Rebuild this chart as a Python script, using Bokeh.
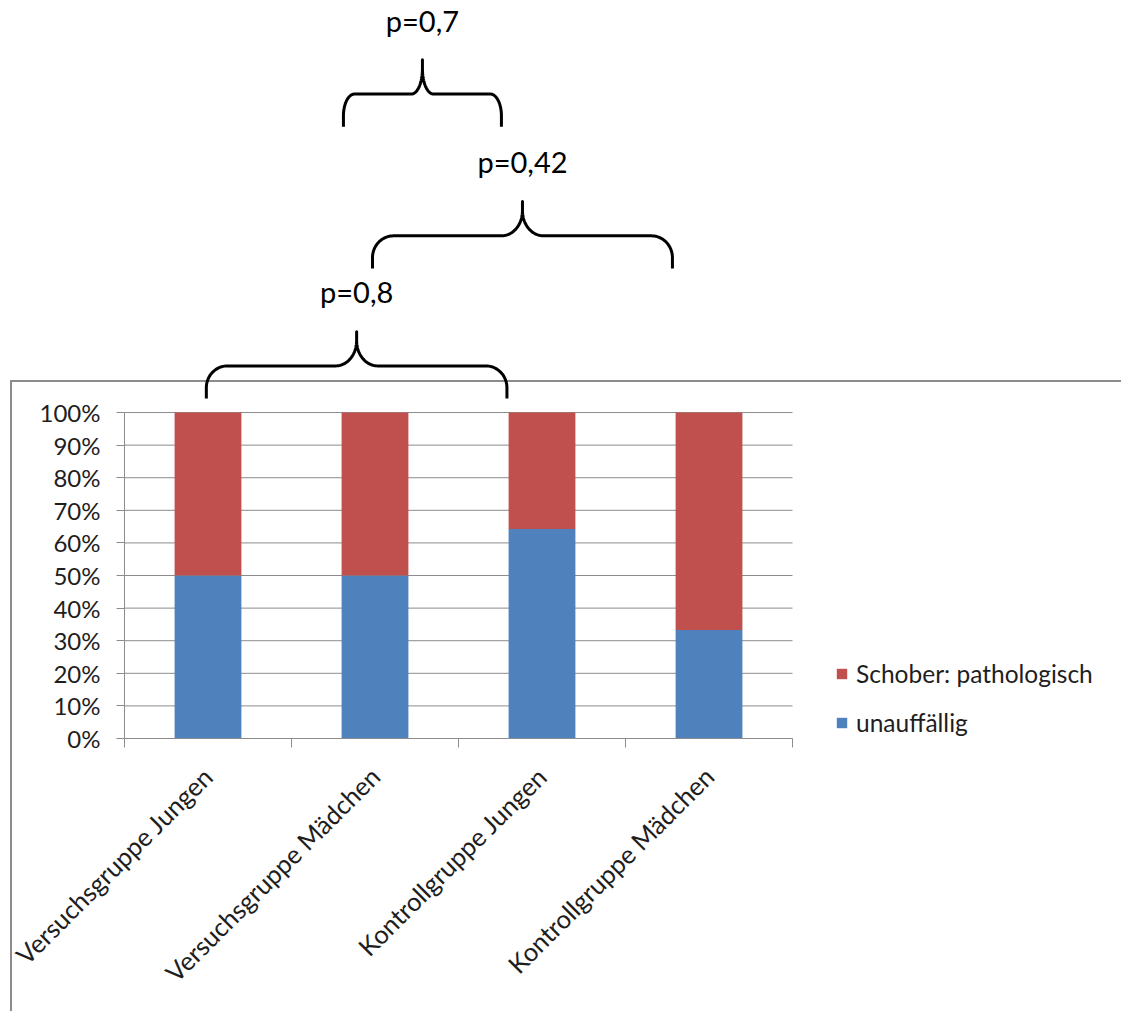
import numpy as np
from bokeh.plotting import figure
from bokeh.models import ColumnDataSource, FixedTicker, Legend, LegendItem
from bokeh.core.properties import value
from bokeh.embed import file_html
from bokeh.resources import INLINE

# ---- data -------------------------------------------------------------
categories = ["Versuchsgruppe Jungen", "Versuchsgruppe Mädchen",
              "Kontrollgruppe Jungen", "Kontrollgruppe Mädchen"]
series_names = ["unauffällig", "Schober: pathologisch"]
unauffaellig = [0.50, 0.50, 0.643, 0.333]
pathologisch = [0.50, 0.50, 0.357, 0.667]
y_tick_values = [0.0, 0.1, 0.2, 0.3, 0.4, 0.5, 0.6, 0.7, 0.8, 0.9, 1.0]
y_tick_labels = ["0%", "10%", "20%", "30%", "40%", "50%",
                 "60%", "70%", "80%", "90%", "100%"]

# significance brackets: left x, right x, base y (data units) and label
bracket_left = [0.49, 1.485, 1.311]
bracket_right = [2.29, 3.281, 2.257]
bracket_base = [1.043, 1.442, 1.877]
bracket_labels = ["p=0,8", "p=0,42", "p=0,7"]

# ---- style ------------------------------------------------------------
BLUE = "#4F81BD"
RED = "#C0504D"
GRID = "#8c8c8c"
TEXT = "#1e1e1e"
FONT = "Lato"

n = len(categories)
x_pos = [i + 0.5 for i in range(n)]

p = figure(width=1121, height=1011, x_range=(0, 5.97), y_range=(0, 2.264),
           output_backend="svg", toolbar_location=None,
           min_border_left=124, min_border_right=0,
           min_border_top=0, min_border_bottom=273)
p.title.visible = False
p.outline_line_color = None
p.xgrid.visible = False
p.ygrid.visible = False
# transparent canvas; the page background carries the chart-area border
p.background_fill_color = None
p.border_fill_color = None
line = f"linear-gradient({GRID}, {GRID})"
p.styles = {
    "background": (f"{line} 10px 380px / 1111px 2px no-repeat, "
                   f"{line} 10px 380px / 2px 631px no-repeat, white"),
}

# horizontal gridlines limited to the category span
p.segment(x0=0, x1=n, y0=y_tick_values[1:], y1=y_tick_values[1:],
          line_color=GRID, line_width=1)

src = ColumnDataSource(dict(x=x_pos, unauffaellig=unauffaellig,
                            pathologisch=pathologisch))
rs = p.vbar_stack(["unauffaellig", "pathologisch"], x="x", width=0.4,
                  source=src, fill_color=[BLUE, RED], line_color=None)

# axes
yax = p.yaxis[0]
yax.ticker = FixedTicker(ticks=y_tick_values)
yax.bounds = (0, 1)
yax.major_label_overrides = {v: l for v, l in zip(y_tick_values, y_tick_labels)}
yax.major_tick_out = 8
yax.major_tick_in = 0
yax.minor_tick_line_color = None
yax.axis_line_color = GRID
yax.major_tick_line_color = GRID
yax.major_label_standoff = 16
yax.major_label_text_font = FONT
yax.major_label_text_font_size = "24px"
yax.major_label_text_color = TEXT

xax = p.xaxis[0]
xax.ticker = FixedTicker(ticks=x_pos, minor_ticks=list(range(n + 1)))
xax.bounds = (0, n)
xax.major_label_overrides = {v: c for v, c in zip(x_pos, categories)}
xax.major_tick_line_color = None
xax.major_tick_out = 0
xax.major_tick_in = 0
xax.minor_tick_out = 9
xax.minor_tick_in = 0
xax.minor_tick_line_color = GRID
xax.axis_line_color = GRID
xax.major_label_orientation = np.pi / 4
xax.major_label_standoff = 24
xax.major_label_text_font = FONT
xax.major_label_text_font_size = "25.5px"
xax.major_label_text_color = TEXT

# curly braces with p-values
def brace(x0, x1, yb, h=0.10, hm=0.105, ry_c=0.067, ry_m=0.077):
    w = x1 - x0
    rx = 0.07 * w
    xm = (x0 + x1) / 2
    t = np.linspace(0, np.pi / 2, 24)
    xs, ys = [x0], [yb]
    # left corner
    xs += list(x0 + rx - rx * np.cos(t)); ys += list(yb + h - ry_c + ry_c * np.sin(t))
    # left half of the cusp
    xs += list(xm - rx + rx * np.sin(t)); ys += list(yb + h + ry_m - ry_m * np.cos(t))
    xs += [xm]; ys += [yb + h + hm]
    # right half of the cusp
    xs += list(xm + rx - rx * np.cos(t)); ys += list(yb + h + ry_m - ry_m * np.sin(t))
    # right corner
    xs += list(x1 - rx + rx * np.sin(t)); ys += list(yb + h - ry_c + ry_c * np.cos(t))
    xs += [x1]; ys += [yb]
    return xs, ys, xm, yb + h + hm

tx, ty = [], []
for x0, x1, yb in zip(bracket_left, bracket_right, bracket_base):
    bx, by, xm, ytop = brace(x0, x1, yb)
    p.line(bx, by, line_color="black", line_width=3, line_join="round")
    tx.append(xm)
    ty.append(ytop + 0.122)

p.text(x=tx, y=ty, text=bracket_labels, text_align="center",
       text_baseline="alphabetic", text_font=value(FONT),
       text_font_size="29px", text_color="black")

legend = Legend(items=[LegendItem(label=series_names[1], renderers=[rs[1]]),
                       LegendItem(label=series_names[0], renderers=[rs[0]])],
                location=(711, 1), orientation="vertical",
                glyph_width=13, glyph_height=13, label_standoff=8,
                label_height=24, spacing=20, padding=0, margin=0,
                border_line_color=None, background_fill_alpha=0,
                label_text_font=FONT, label_text_font_size="24.5px",
                label_text_color=TEXT)
p.add_layout(legend)

open("out.html", "w").write(file_html(p, INLINE))
